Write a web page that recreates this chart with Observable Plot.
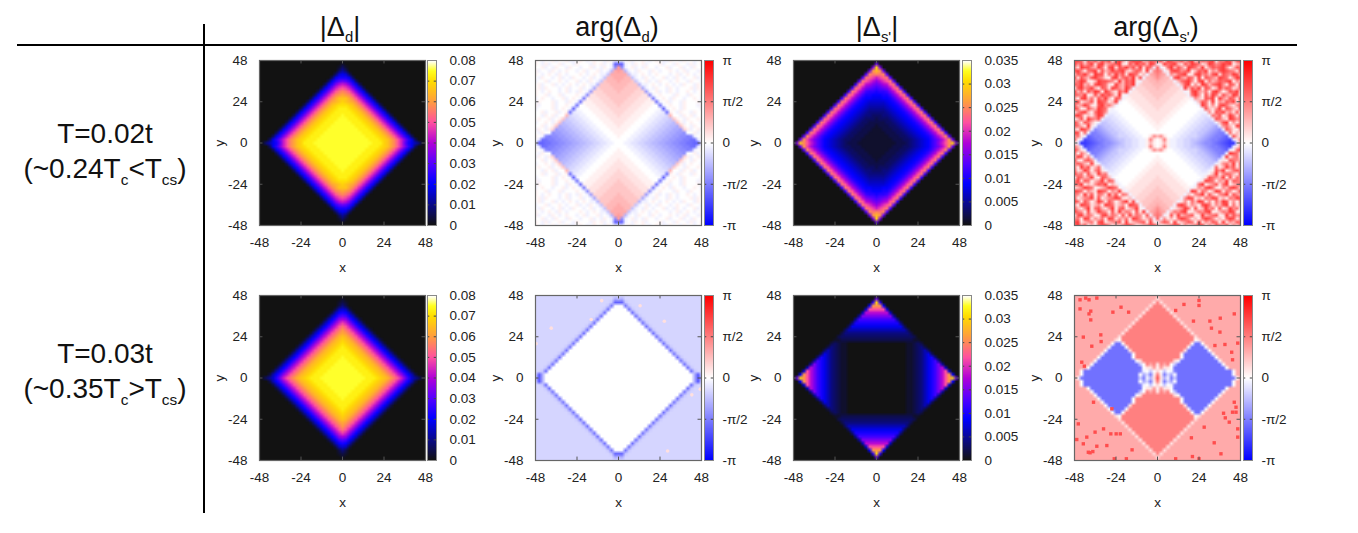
<!DOCTYPE html>
<html>
<head>
<meta charset="utf-8">
<script src="https://cdn.jsdelivr.net/npm/d3@7"></script>
<script src="https://cdn.jsdelivr.net/npm/@observablehq/plot@0.6"></script>
<style>
   html, body { margin: 0; background: #fff; width: 1358px; height: 533px; overflow: hidden; }
   body { position: relative; font-family: "Liberation Sans", sans-serif; color: #111; }
   .head, .row { position: absolute; transform: translateX(-50%); white-space: nowrap; text-align: center; }
   .head { font-size: 27px; line-height: 30px; }
   .row { font-size: 28px; line-height: 35px; }
   sub { font-size: 0.55em; line-height: 0; }
   .rule { position: absolute; background: #000; }
   svg text { font-size: 13.5px; }
</style>
</head>
<body>
<div class="rule" style="left:17px;top:44px;width:1280px;height:2px"></div>
<div class="rule" style="left:203px;top:24px;width:2px;height:489px"></div>
<div class="head" style="left:340px;top:12px">|&Delta;<sub>d</sub>|</div>
<div class="head" style="left:617px;top:12px">arg(&Delta;<sub>d</sub>)</div>
<div class="head" style="left:877px;top:12px">|&Delta;<sub>s'</sub>|</div>
<div class="head" style="left:1156px;top:12px">arg(&Delta;<sub>s'</sub>)</div>
<div class="row" style="left:105px;top:116px">T=0.02t<br>(~0.24T<sub>c</sub>&lt;T<sub>cs</sub>)</div>
<div class="row" style="left:105px;top:336px">T=0.03t<br>(~0.35T<sub>c</sub>&gt;T<sub>cs</sub>)</div>
<script>
"use strict";

// every grid below is one quadrant, sites 2 apart:
// rows run y = 48 .. 0, columns x = 0 .. 48, a row's last char fills the rest of it
const ticks = [-48, -24, 0, 24, 48]
const d_ticks = [0, 0.01, 0.02, 0.03, 0.04, 0.05, 0.06, 0.07, 0.08]
const s_ticks = [0, 0.005, 0.01, 0.015, 0.02, 0.025, 0.03, 0.035]
const arg_ticks = [-Math.PI, -Math.PI / 2, 0, Math.PI / 2, Math.PI]
const arg_labels = ["-π", "-π/2", "0", "π/2", "π"]

// |delta_d| at T=0.02t
const d_mag_low = ["0", "10", "310", "530", "8730", "aa830", "edb830", "jifb830", "mljfb830", "pomjfb830",
   "rqpmjfb830", "ttrpmjfb830", "utsrpmjfb830", "vvutrpmjfb830", "wwvutrpmjfb830", "wwwvutrpmjfb830",
   "xwwwvutrpmjfb830", "xxwwwvutrpmjfb830", "xxxwwwvutrpmjfb830", "xxxxwwwvutrpmjfb830",
   "xxxxxwwwvutrpmjfb830", "xxxxxxwwwvutrpmjfb830", "xxxxxxxwwwvutrpmjfb830", "xxxxxxxxwwwvutrpmjfb830",
   "xxxxxxxxxwwwutrpmjea86410"]

// |delta_d| at T=0.03t
const d_mag_high = ["0", "10", "210", "420", "7620", "a9620", "dc9620", "hgc9620", "ljgc9620", "omjgc9620",
   "qomjgc9620", "rqomjgc9620", "tsqomjgc9620", "utsqomjgc9620", "vutsqomjgc9620", "wvutsqomjgc9620",
   "wwvutsqomjgc9620", "wwwvutsqomjgc9620", "xwwwvutsqomjgc9620", "xxwwwvutsqomjgc9620",
   "xxxwwwvutsqomjgc9620", "xxxxwwwvutsqomjgc9620", "xxxxxwwwvutsqomjgc9620", "xxxxxxwwwvutsqomjgc9620",
   "xxxxxxxwwwvutsqomjfb75310"]

// |delta_s'| at T=0.02t
const s_mag_low = ["0", "e0", "uf0", "sqe0", "popd0", "jlnod0", "gikmod0", "efhimoc0", "cdefimoc0", "abbcfimoc0",
   "99aacfimoc0", "8899acfimoc0", "77789acfimoc0", "666789acfimoc0", "5556789acfimoc0", "44456789acfimoc0",
   "334456789acfimoc0", "2333456789acfimoc0", "22233456789acfimoc0",
   "122233456789acfimoc0", "1122233456789acfimoc0", "11122233456789acfimoc0",
   "111122233456789acfilpd0", "1111122233456789bdfilqe0", "1111112223456789bdgjmpuf0"]

// |delta_s'| at T=0.03t
const s_mag_high = ["0", "e0", "ub0", "qq90", "mmm70", "iiii60", "fffff50", "cccccc50", "aaaaaaa40", "8888888830",
   "66666666630", "444444444420", "3333333333320", "22222222222110", "000000000112320",
   "0000000001123420", "000000000112346 30".replace(" ", ""), "0000000001123468 30".replace(" ", ""),
   "00000000011234 68a40".replace(" ", ""), "00000000011234 68ac50".replace(" ", ""), "00000000011234 68acf50".replace(" ", ""),
   "00000000011234 68acfi60".replace(" ", ""), "00000000011234 68acfim70".replace(" ", ""), "00000000011234 68acfimq90".replace(" ", ""),
   "00000000011234 68acfimque0".replace(" ", "")]

// arg(delta_d) at T=0.02t
const d_arg_low = ["hhijhiijihijihhjiihjiihij", "77hihjijhiiijhiihjiihjhij", "pahijhihjiihiijhiijhihjii",
   "podhihjiihjihiijihijhiihj", "oooehhijihijiiihijhijihij", "oonnehihjihiijhihjihiijhi",
   "onnnmehijhihjiihijiihjiih", "nnnmmmdhhijihijihihjiihji", "nnmmmmlchihjiihjihiiijhji",
   "nmmmmlllbhijhihjihiijihij", "mmmmlllkkahijiiihjiihjiij", "mmmlllkkkj9hijihjiihiijih",
   "mmlllkkkjjj8hijhiihjiiijh", "mlllkkkjjjii8hijiihjiiihj", "lllkkkjjjiiih7hijihjiiiih",
   "llkkkjjjiiihhg8jihjiihjii", "lkkkjjjiiihhggfniihjijhii", "kkkjjjiiihhggffemjihjiiji",
   "kkjjjiiihhggffeedmjhijiih", "kjjjiiihhggffeeddcmjihjii", "jjjiiihhggffeeddccbljhijh",
   "jjiiihhggffeeddccbbaiijhi", "jiiihhggffeeddccbbaa9ahij", "iiihhggffeeddccbbaa9988gi",
   "iihhggffeeddccbbaa998876h"]

// arg(delta_d) at T=0.03t
const d_arg_high = ["f", "dcf", "77ef", "ii8ef", "iii8ef", "iiii8ef", "iiiii8ef", "iiiiii8ef", "iiiiiii8ef",
   "iiiiiiii8ef", "iiiiiiiii8ef", "iiiiiiiiii8ef", "iiiiiiiiiii8ef", "iiiiiiiiiiii8ef", "iiiiiiiiiiiii8ef",
   "iiiiiiiiiiiiii8ef", "iiiiiiiiiiiiiii8ef", "iiiiiiiiiiiiiiii8ef", "iiiiiiiiiiiiiiiii8ef",
   "iiiiiiiiiiiiiiiiii8ef", "iiiiiiiiiiiiiiiiiii8ef", "iiiiiiiiiiiiiiiiiiii8ef", "iiiiiiiiiiiiiiiiiiiii8ef",
   "iiiiiiiiiiiiiiiiiiiiiic6f", "iiiiiiiiiiiiiiiiiiiiiic6d"]
const d_arg_high_speck_x = [-9.7, 12.5, -15.8, 26.5, -38.9, -47.7, 42.4, 47.3, 28.4]
const d_arg_high_speck_y = [45, 42, 34, 33, 29, 20, -9.8, -6.5, -42.5]

// arg(delta_s') at T=0.02t, "." marks the outside of the diamond, see s_arg_low_out
const s_arg_low = [".", "h.", "th.", "sqh.", "rpoh.", "qonnh.", "onnmmh.", "nnmmmlh.", "nmmmlllh.", "mmmlllkkh.",
   "mmlllkkkkh.", "mlllkkkkjjh.", "lllkkkkjjiih.", "llkkkkjjiiiih.", "lkkkkjjiiiiiih.", "kkkkjjiiiiiihhh.",
   "kkkjjiiiiiihhggh.", "kkjjiiiiiihhggffh.", "kjjiiiiiihhggffeeh.", "jjiiiiiihhggffeedch.",
   "jiiiiiihhggffeedcbah.", "iiiiiihhggffeedcba99h.", "nqkiihhggfffedcba9987h.", "ikrjhhggffeedcba998765g.",
   "ijnjhhggffedcbaa9876543g."]

// the speckled outside of that same panel, full width, y = 48 .. -48
const s_arg_low_out = [
   "uwskuqwnuswjuwqkswuwnqusuwkwuqswnuwkqusuwjsqwunuw",
   "wqunswkuwnqsuwkjuqwsunwuqkwsuwnkuqwusknwuqswuwjnq",
   "skwuuqnwsjuwkuswqunwkusqwujswnuqkwusnwkqusuwqjnus",
   "uwqjsuwkunqwsuwnkqusjwuwsnqkuwuqswjnuswkqnuwusqkw",
   "nuswqkwuujsnwqukwusjnquwkswuqnsuwjkuwqsnuwkusqwun",
   "wkuqnuwsqkjuwnsuqwkuswnjquwksuwqnuskwjusqnwuskqwu",
   "qswukjnwuusqkwnuswjqunwskuqwuknsuwqjuwksnqusuwjqn",
   "uswnqkuwuskjwqnuswkuqnjwsuwkqusnuwjqkwunsuwqkusjw",
   "kuwqswnjuskwuqnwsukjquwnsuwqkjuswnuqwkusjnwqusknu",
   "wnskuqwujwsnkuqwusnkwjquswunqkwsujuwqnskuwqjnuswk",
   "usqwjkunwsuqkwjnusuwqsknwujqsuwnkuswqjunwskuqnwuj",
   "qjuwnskuqwnjusukwqnsuwjkusqwnukjswuqnkuswjwqnuskw",
   "swknqujwusknwqjusuwnkqswujnuqwskjuwqnuskwjqnuswku",
   "unqwskjuwqsnukwjsuqnwkusjwuqnskwujqunwskqjuwsnkqu",
   "wsjkuqnwusjqkwnusujwqsnkuwjqusnwkujqwsunkqwjusnkw",
   "kquwnjswuqkjnwsuqwjnkusuqwjsnkuwqjsuwnkqjuswnqkuj",
   "uwsjnkqwujsnqwukjswuqnwkujqswnkuwjsqunkwsqujnwsku",
   "jnukwsquwjnqkusjwunqskwuqjnwskuqjwnsukwjqusnkwuqs",
   "wqkusnjuwkqnsujwkuqsnjwukqsnujwqkusnjwuqksnuwjqks",
   "usnjwkquwsnkjqwusnjkwuqsnjwukqsnjuwkqsjnuwkqsnjwu",
   "nkwuqjsnwkuqjsnwukqjsnwuqkjsnwuqkjsnuwqkjsnwuqkjs",
   "wujskqnwujsqknwusjqnkwusqjnwkusqjnwkuqsjnwkuqsjnk",
   "qskunwjqskuwnjqskwunjqswkunjqswkunjqskwunjqswkunj",
   "ujwnkqsujwnkqswujnkqswujnkqswjunkqswjunqkswjunqks",
   "kwqsnujkwqsunjkwqusnjkwuqsnjkwuqsnjkwquvsnjkwuqsn",
   "snujqkwsnujkqwsnujkwqsnujkwqsnuwjkqsnuwjkqsnwujkq",
   "wqkjunswqkjusnwqkujsnwqukjsnwuqkjsnwuqkjswnuqkjsw",
   "ujsnwkquwjsnkqwujsnkwquwjsnkqwuvjsnkwquwsjnkqwusj",
   "nwukqjsnwukqsjnwuqksjnwuqksjnuwqksjnuwkqsjnuwkqsj",
   "wkjsuqnwkjusqnwkjusqnkwjuqsnkwjuqsnkwjuqsnwkjusqn",
   "qusnkwjqusnwkjqusnwjkqusnwjkuqsnwjkuqsnwjukqsnwju",
   "sjwquknsjwqunksjwqunskjwquskjnwquskjnwquksjnwquks",
   "uknwsjqukwnsjqukwnsjquwknsjquwknsjuqwknsjuqwknsuq",
   "wqsjunkwqsjunkwqsujnkwqusjnkwqusjnwkqusjnwkqusnjw",
   "jusnqwkjusnqwjkusnqwjukusnqwjukusqnwjukusqnwjuksq",
   "qwkusjnqwkusjnqkwusjnqkwuvsjnqkwusjqnkwusjqnwkusq",
   "uswjnkquswjnkqusjwnkqusjwnkquswjnqkuswjnqukswjnqu",
   "knqwusjknqwusjkqnwusjkqnuwsjkqnuwsjkqnuwskjqnuwsk",
   "wusjqnkwusjqnwkusjqnwkusqjnwkusqjnwuksqjnwuksqjnw",
   "sqkwnujsqkwnujsqwknujsqwkunjsqwkunjqswkunjqswkuqn",
   "ujnqswkujnqswukjnqswukjnsqwukjnsqwuknjsqwuknjsqwu",
   "wskuqjnwskuqjnswkuqjnswukqjnswukqjsnwukqjsnwukqjs",
   "qjwusknqjwusknqjwuskqnjwuskqnjuwskqnjuwskqnuwjskq",
   "unkqwjsunkqwjsuknqwjsuknqwsjuknqwsjuknwqsjuknwqsj",
   "wsqjuknwsqjukwnsqjukwnsqujkwnsquwjknsquwjknsqwujk",
   "kuwnsqjkuwnsqjukwnsqjukwnqsjukwnqsujkwnqsujkwnuqs",
   "qsjwukqnsjwukqnsjwuqknsjwuqknjswuqknjswuqknjswukq",
   "uwknqsjuwknqsujwknqsujwknqusjwknqusjwkqnusjwkqnus",
   "swqujnksuwqjnksuwqjknsuwqjknsuwjqknsuwjqkusnwjqku"
]

// arg(delta_s') at T=0.03t
const s_arg_high = ["o", "ko", "rko", "rrko", "rrrko", "rrrrko", "rrrrrko", "rrrrrrko", "rrrrrrrko", "rrrrrrrrko",
   "rrrrrrrrrko", "rrrrrrrrrrko", "rrrrrrrrrrrko", "rrrrrrrrrrriko", "rrrrrrrrrri88io",
   "rrrrrrrrri8888io", "rrrrrrrrk888888io", "rrrrrrri88888888io", "rrrrrrri888888888io",
   "rrrrrki88888888888io", "krorie8888888888888io", "jpkki888888888888888io", "lieih98888888888888888io",
   "rj9fci8888888888888888io", "ukdh9e88888888888888888io"]
const s_arg_high_speck_x = [-44.8, -41.5, -39.6, -35.1, -44.8, -38.6, -39.6, -38.6, -25.8, -21.1, -16.7, -32.8, -42.9, -32.6, -38, -43.8, -42.3,
   15.3, 24, 10.5, 20.8, 30.3, 36.3, 44.4, 31.2, 36.1, 33.2, 39, 46.4, 42.9, 43.4, 24,
   -37, -26.4, -45.8, -31.2, -36.1, -27, -23.9, -21.5, -40.9, -46.7, -42.9, -35.1, -29.3, -39, -40, -37.4, -14.7, -25, -18,
   44.4, 45.4, 38.2, 43.4, 45.4, 39.2, 41.5, 27, 19.6, 46.4, 46.4, 32.8, 36.7, 20.2, 24, 10.5]
const s_arg_high_speck_y = [45.5, 46.5, 45.5, 46.5, 40.2, 38.9, 37.3, 33.8, 38.3, 41.2, 38.3, 25.1, 23.8, 21.2, 18.5, 9.2, 6.9,
   42.8, 45.1, 39.3, 33.1, 33.1, 34.8, 37.3, 29, 26.7, 18.9, 19.5, 20.3, 15, 10.6, 42.2,
   -14.1, -17.9, -26.7, -29.6, -31.5, -32.5, -32.5, -32.5, -34.4, -35.8, -38.3, -39.7, -39.3, -43.5, -43.2, -42.8, -41.8, -47, -47,
   -14.1, -17, -20.5, -19.9, -19.9, -23.2, -25.7, -28.6, -34.8, -29.6, -34.4, -37.7, -44.1, -45.7, -47, -47]

const mag_stops = [0, 0.25, 0.375, 0.5, 0.625, 0.75, 0.875, 0.94, 1]
const mag_colors = ["#121212", "#0000ff", "#5500ff", "#b000d8", "#ff50a0", "#ff9c40", "#ffdc00", "#ffff20", "#ffffff"]
const arg_colors = ["#0000ff", "#ffffff", "#ff0000"]

function mirror(rows) {
   const full = rows.map(r => r.padEnd(25, r.at(-1)))
   const all = [...full, ...full.slice(0, -1).reverse()]
   return all.map(r => [...[...r].slice(1).reverse(), ...r])
}

function mag_values(rows, max) {
   return mirror(rows).flat().map(c => parseInt(c, 36) / 35 * max)
}

function arg_values(rows, out) {
   return mirror(rows).flatMap((r, i) => r.map((c, j) => {
      const ch = c === "." ? out[i][j] : c
      return (parseInt(ch, 36) / 18 - 1) * Math.PI
   }))
}

function place(el, left, top) {
   el.style.position = "absolute"
   el.style.left = left + "px"
   el.style.top = top + "px"
   document.body.append(el)
}

function color_opts(max) {
   if (max) return {type: "linear", domain: mag_stops.map(d => d * max), range: mag_colors}
   return {type: "linear", domain: [-Math.PI, 0, Math.PI], range: arg_colors}
}

function draw_panel(values, max, left, top, extra) {
   const plot = Plot.plot({
      width: 166 + 45 + 14,
      height: 165 + 60,
      marginLeft: 45, marginRight: 14, marginTop: 10, marginBottom: 50,
      style: {fontFamily: "Liberation Sans", background: "transparent", color: "#222", overflow: "visible"},
      x: {domain: [-48, 48]},
      y: {domain: [-48, 48]},
      color: color_opts(max),
      marks: [
         Plot.raster(values, {width: 49, height: 49, x1: -49, x2: 49, y1: 49, y2: -49, clip: true}),
         ...extra,
         Plot.ruleX(ticks, {y1: -48, y2: -46, stroke: "#555"}),
         Plot.ruleX(ticks, {y1: 46, y2: 48, stroke: "#555"}),
         Plot.ruleY(ticks, {x1: -48, x2: -46, stroke: "#555"}),
         Plot.ruleY(ticks, {x1: 46, x2: 48, stroke: "#555"}),
         Plot.frame({stroke: "#666", strokeWidth: 1.2}),
         Plot.axisX(ticks, {tickSize: 0, tickPadding: 12, tickFormat: String, label: "x", labelAnchor: "center", labelArrow: "none", labelOffset: 46}),
         Plot.axisY(ticks, {tickSize: 0, tickPadding: 12, tickFormat: String, label: "y", labelAnchor: "center", labelArrow: "none", labelOffset: 45})
      ]
   })
   place(plot, left - 45, top - 10)
}

function draw_bar(max, left, top) {
   const top_value = max || Math.PI
   const bottom_value = max ? 0 : -Math.PI
   const bar_ticks = max ? (max === 0.08 ? d_ticks : s_ticks) : arg_ticks
   const fmt = max ? String : d => arg_labels[arg_ticks.indexOf(d)]
   const ramp = d3.range(200).map(i => top_value + (bottom_value - top_value) * i / 199)
   const plot = Plot.plot({
      width: 9 + 56,
      height: 165 + 20,
      marginLeft: 1, marginRight: 55, marginTop: 10, marginBottom: 10,
      style: {fontFamily: "Liberation Sans", background: "transparent", color: "#222", overflow: "visible"},
      x: {domain: [0, 1], axis: null},
      y: {domain: [bottom_value, top_value]},
      color: color_opts(max),
      marks: [
         Plot.raster(ramp, {width: 1, height: 200, x1: 0, x2: 1, y1: top_value, y2: bottom_value}),
         Plot.ruleY(bar_ticks, {x1: 0, x2: 0.25, stroke: "#444"}),
         Plot.ruleY(bar_ticks, {x1: 0.75, x2: 1, stroke: "#444"}),
         Plot.frame({stroke: "#888"}),
         Plot.axisY(bar_ticks, {anchor: "right", tickSize: 0, tickPadding: max ? 13 : 9, tickFormat: fmt, label: null})
      ]
   })
   place(plot, left - 1, top - 10)
}

const speck_low = d3.range(d_arg_high_speck_x.length)
const speck_high = d3.range(s_arg_high_speck_x.length)
const row_tops = [60, 295]
const col_lefts = [259, 535, 793, 1074]
const bar_lefts = [427, 704, 962, 1243]

draw_panel(mag_values(d_mag_low, 0.08), 0.08, col_lefts[0], row_tops[0], [])
draw_bar(0.08, bar_lefts[0], row_tops[0])
draw_panel(arg_values(d_arg_low), 0, col_lefts[1], row_tops[0], [])
draw_bar(0, bar_lefts[1], row_tops[0])
draw_panel(mag_values(s_mag_low, 0.035), 0.035, col_lefts[2], row_tops[0], [])
draw_bar(0.035, bar_lefts[2], row_tops[0])
draw_panel(arg_values(s_arg_low, s_arg_low_out), 0, col_lefts[3], row_tops[0], [])
draw_bar(0, bar_lefts[3], row_tops[0])

draw_panel(mag_values(d_mag_high, 0.08), 0.08, col_lefts[0], row_tops[1], [])
draw_bar(0.08, bar_lefts[0], row_tops[1])
draw_panel(arg_values(d_arg_high), 0, col_lefts[1], row_tops[1], [
   Plot.dot(speck_low, {x: i => d_arg_high_speck_x[i], y: i => d_arg_high_speck_y[i], r: 1.8, fill: () => 0.12 * Math.PI, clip: true})
])
draw_bar(0, bar_lefts[1], row_tops[1])
draw_panel(mag_values(s_mag_high, 0.035), 0.035, col_lefts[2], row_tops[1], [])
draw_bar(0.035, bar_lefts[2], row_tops[1])
draw_panel(arg_values(s_arg_high), 0, col_lefts[3], row_tops[1], [
   Plot.dot(speck_high, {x: i => s_arg_high_speck_x[i], y: i => s_arg_high_speck_y[i], r: 1.9, symbol: "square", fill: () => 0.7 * Math.PI, clip: true})
])
draw_bar(0, bar_lefts[3], row_tops[1])
</script>
</body>
</html>
